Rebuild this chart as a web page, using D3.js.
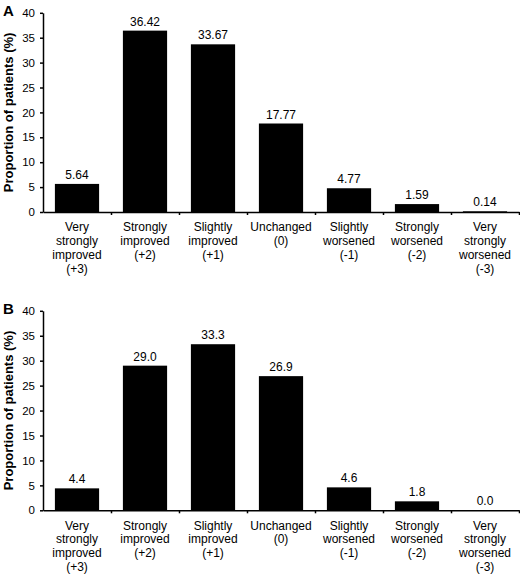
<!DOCTYPE html>
<html>
<head>
<meta charset="utf-8">
<script src="https://cdn.jsdelivr.net/npm/d3@7"></script>
<style>
  html, body { margin: 0; padding: 0; background: #fff; }
  svg { display: block; }
  text { font-family: Arial, "Liberation Sans", Helvetica, sans-serif; fill: #000; }
</style>
</head>
<body>
<script>
// ---- data ----
const categories = [
  ["Very", "strongly", "improved", "(+3)"],
  ["Strongly", "improved", "(+2)"],
  ["Slightly", "improved", "(+1)"],
  ["Unchanged", "(0)"],
  ["Slightly", "worsened", "(-1)"],
  ["Strongly", "worsened", "(-2)"],
  ["Very", "strongly", "worsened", "(-3)"]
];
const valuesA = [5.64, 36.42, 33.67, 17.77, 4.77, 1.59, 0.14];
const valuesB = [4.4, 29.0, 33.3, 26.9, 4.6, 1.8, 0.0];
const yTicks = [0, 5, 10, 15, 20, 25, 30, 35, 40];
const panelLabels = ["A", "B"];
const yTitle = "Proportion of patients (%)";

const W = 520, H = 575;
const svg = d3.select("body").append("svg").attr("width", W).attr("height", H);

function panel(label, values, fmt, top, bottom) {
  const g = svg.append("g");
  const x = d3.scaleBand().domain(d3.range(categories.length)).range([43, 519])
    .paddingInner(0.35).paddingOuter(0.175);
  const xEdge = d3.scaleLinear().domain([0, categories.length]).range([43, 519]);
  const y = d3.scaleLinear().domain([0, 40]).range([bottom, top]);

  // bars
  g.selectAll("rect.bar").data(values).join("rect")
    .attr("class", "bar")
    .attr("x", (d, i) => x(i))
    .attr("width", x.bandwidth())
    .attr("y", d => y(d))
    .attr("height", d => Math.max(0, y(0) - y(d)))
    .attr("fill", "#000");

  // value labels
  g.selectAll("text.val").data(values).join("text")
    .attr("class", "val")
    .attr("x", (d, i) => x(i) + x.bandwidth() / 2)
    .attr("y", d => y(d) - 5)
    .attr("text-anchor", "middle")
    .attr("font-size", 12)
    .text(d => fmt(d));

  // y axis
  const ya = g.append("g").attr("transform", "translate(43,0)")
    .call(d3.axisLeft(y).tickValues(yTicks).tickSize(3).tickSizeOuter(0).tickPadding(5));
  ya.select(".domain").attr("stroke", "#000").attr("stroke-width", 1.5);
  ya.selectAll(".tick line").attr("stroke", "#000").attr("stroke-width", 1.5);
  ya.selectAll(".tick text").attr("font-size", 11.5).attr("font-family", "Arial, 'Liberation Sans', sans-serif").attr("fill", "#000");

  // x axis (ticks at category boundaries)
  const xa = g.append("g").attr("transform", `translate(0,${bottom})`)
    .call(d3.axisBottom(xEdge).tickValues(d3.range(1, categories.length + 1)).tickSize(3).tickSizeOuter(0).tickFormat(""));
  xa.select(".domain").attr("stroke", "#000").attr("stroke-width", 1.5);
  xa.selectAll(".tick line").attr("stroke", "#000").attr("stroke-width", 1.5);

  // category labels
  const cl = g.selectAll("text.cat").data(categories).join("text")
    .attr("class", "cat")
    .attr("text-anchor", "middle")
    .attr("font-size", 12)
    .attr("x", (d, i) => x(i) + x.bandwidth() / 2)
    .attr("y", bottom + 19.3);
  cl.selectAll("tspan").data(d => d).join("tspan")
    .attr("x", function () { return d3.select(this.parentNode).attr("x"); })
    .attr("dy", (d, i) => i === 0 ? 0 : 13.8)
    .text(d => d);

  // y title
  g.append("text")
    .attr("transform", `translate(13,${(top + bottom) / 2}) rotate(-90)`)
    .attr("text-anchor", "middle")
    .attr("font-size", 13)
    .attr("font-weight", "bold")
    .text(yTitle);

  // panel label
  g.append("text")
    .attr("x", 3)
    .attr("y", top + 3)
    .attr("font-size", 15)
    .attr("font-weight", "bold")
    .text(label);
}

panel(panelLabels[0], valuesA, d3.format(".2f"), 12.8, 212);
panel(panelLabels[1], valuesB, d3.format(".1f"), 310.8, 510.3);
</script>
</body>
</html>
